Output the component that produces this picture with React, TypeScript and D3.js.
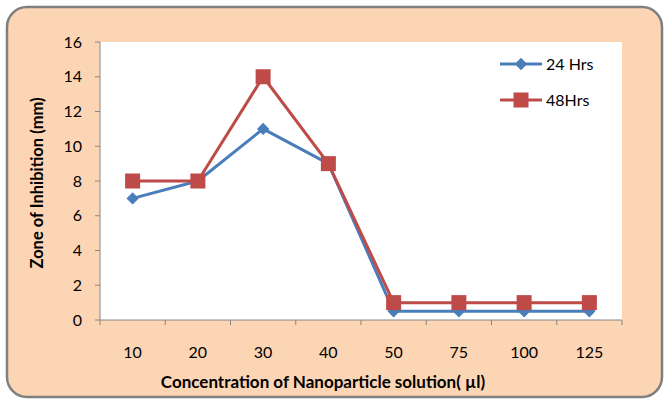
import React, { useEffect, useRef } from 'react';
import * as d3 from 'd3';

const categories = ['10', '20', '30', '40', '50', '75', '100', '125'];
const hrs24 = [7, 8, 11, 9, 0.5, 0.5, 0.5, 0.5];
const hrs48 = [8, 8, 14, 9, 1, 1, 1, 1];
const yTicks = [0, 2, 4, 6, 8, 10, 12, 14, 16];

const W = 668;
const H = 403;
const FONT = 'Lato, "Open Sans", sans-serif';

const App: React.FC = () => {
  const ref = useRef<SVGSVGElement>(null);

  useEffect(() => {
    if (!ref.current) return;
    const svg = d3.select(ref.current);
    svg.selectAll('*').remove();

    // chart frame
    svg.append('rect')
      .attr('x', 7).attr('y', 7)
      .attr('width', 655).attr('height', 390)
      .attr('rx', 20).attr('ry', 20)
      .attr('fill', '#FCD5B5')
      .attr('stroke', '#7F7F7F')
      .attr('stroke-width', 2.5);

    const left = 100, right = 622, top = 42, bottom = 320;

    svg.append('rect')
      .attr('x', left).attr('y', top)
      .attr('width', right - left).attr('height', bottom - top)
      .attr('fill', '#fff');

    const x = d3.scaleBand().domain(categories).range([left, right]);
    const y = d3.scaleLinear().domain([0, 16]).range([bottom, top]);

    const axisColor = '#868686';

    // y axis
    svg.append('line')
      .attr('x1', left).attr('x2', left).attr('y1', top).attr('y2', bottom)
      .attr('stroke', axisColor);
    yTicks.forEach(t => {
      svg.append('line')
        .attr('x1', left - 5).attr('x2', left).attr('y1', y(t)).attr('y2', y(t))
        .attr('stroke', axisColor);
      svg.append('text')
        .attr('x', left - 18).attr('y', y(t) + 5.5)
        .attr('text-anchor', 'end')
        .attr('font-family', FONT).attr('font-size', 16).attr('fill', '#000')
        .text(t);
    });

    // x axis
    svg.append('line')
      .attr('x1', left).attr('x2', right).attr('y1', bottom).attr('y2', bottom)
      .attr('stroke', axisColor);
    const bounds = categories.map(c => x(c)!).concat([right]);
    bounds.forEach(b => {
      svg.append('line')
        .attr('x1', b).attr('x2', b).attr('y1', bottom).attr('y2', bottom + 5)
        .attr('stroke', axisColor);
    });
    categories.forEach(c => {
      svg.append('text')
        .attr('x', x(c)! + x.bandwidth() / 2).attr('y', 358)
        .attr('text-anchor', 'middle')
        .attr('font-family', FONT).attr('font-size', 16).attr('fill', '#000')
        .text(c);
    });

    // axis titles
    svg.append('text')
      .attr('x', 323).attr('y', 388)
      .attr('text-anchor', 'middle')
      .attr('font-family', FONT).attr('font-size', 17).attr('font-weight', 'bold')
      .text('Concentration of Nanoparticle solution( µl)');
    svg.append('text')
      .attr('transform', `translate(43,183) rotate(-90)`)
      .attr('text-anchor', 'middle')
      .attr('font-family', FONT).attr('font-size', 16.5).attr('font-weight', 'bold')
      .text('Zone of Inhibition (mm)');

    const cx = (i: number) => x(categories[i])! + x.bandwidth() / 2;
    const line = d3.line<number>().x((_, i) => cx(i)).y(d => y(d));

    const blue = '#4A7EBB';
    const red = '#BE4B48';
    const diamond = d3.symbol().type(d3.symbolDiamond2).size(98);
    const sq = 15;

    // 24 Hrs
    svg.append('path').datum(hrs24)
      .attr('d', line).attr('fill', 'none')
      .attr('stroke', blue).attr('stroke-width', 3).attr('stroke-linejoin', 'round');
    hrs24.forEach((v, i) => {
      svg.append('path')
        .attr('d', diamond()!)
        .attr('transform', `translate(${cx(i)},${y(v)})`)
        .attr('fill', blue);
    });

    // 48 Hrs
    svg.append('path').datum(hrs48)
      .attr('d', line).attr('fill', 'none')
      .attr('stroke', red).attr('stroke-width', 3).attr('stroke-linejoin', 'round');
    hrs48.forEach((v, i) => {
      svg.append('rect')
        .attr('x', cx(i) - sq / 2).attr('y', y(v) - sq / 2)
        .attr('width', sq).attr('height', sq)
        .attr('fill', red);
    });

    // legend
    const legend = [
      { name: '24 Hrs', color: blue, marker: 'diamond', ly: 64 },
      { name: '48Hrs', color: red, marker: 'square', ly: 100 },
    ];
    legend.forEach(l => {
      svg.append('line')
        .attr('x1', 500).attr('x2', 542).attr('y1', l.ly).attr('y2', l.ly)
        .attr('stroke', l.color).attr('stroke-width', 3);
      if (l.marker === 'diamond') {
        svg.append('path').attr('d', diamond()!)
          .attr('transform', `translate(521,${l.ly})`).attr('fill', l.color);
      } else {
        svg.append('rect').attr('x', 521 - sq / 2).attr('y', l.ly - sq / 2)
          .attr('width', sq).attr('height', sq).attr('fill', l.color);
      }
      svg.append('text')
        .attr('x', 546).attr('y', l.ly + 6)
        .attr('font-family', FONT).attr('font-size', 16).attr('fill', '#000')
        .text(l.name);
    });
  }, []);

  return (
    <svg ref={ref} width={W} height={H} style={{ display: 'block', position: 'absolute', left: 0, top: 0 }} />
  );
};

export default App;
